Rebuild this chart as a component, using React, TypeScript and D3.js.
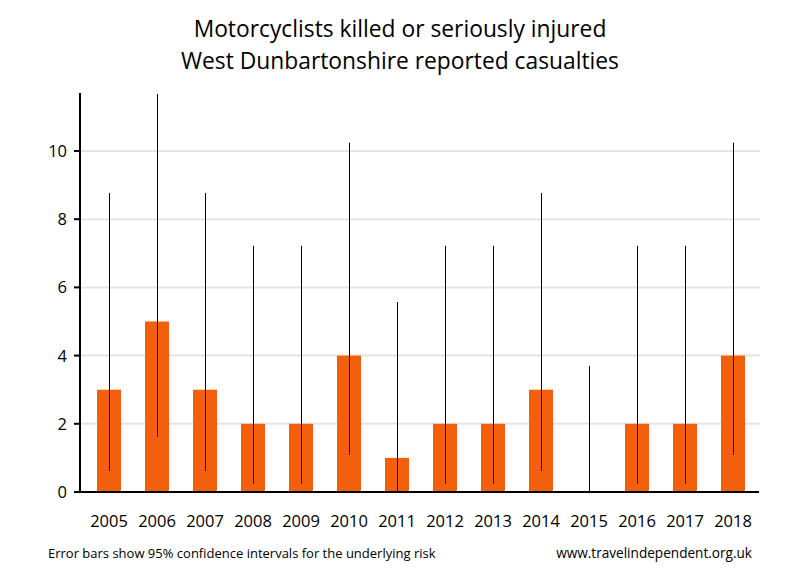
import React from "react";
import * as d3 from "d3";

const years = ["2005","2006","2007","2008","2009","2010","2011","2012","2013","2014","2015","2016","2017","2018"];
const casualties = [3,5,3,2,2,4,1,2,2,3,0,2,2,4];
const ciLow = [0.62,1.62,0.62,0.24,0.24,1.09,0.03,0.24,0.24,0.62,0,0.24,0.24,1.09];
const ciHigh = [8.77,11.67,8.77,7.22,7.22,10.24,5.57,7.22,7.22,8.77,3.69,7.22,7.22,10.24];
const yTicks = [0,2,4,6,8,10];
const titleLines = ["Motorcyclists killed or seriously injured", "West Dunbartonshire reported casualties"];
const footLeft = "Error bars show 95% confidence intervals for the underlying risk";
const footRight = "www.travelindependent.org.uk";

const W = 800, H = 580;
const font = "'Open Sans', 'Noto Sans', sans-serif";

export default function App() {
  const x = d3.scaleBand<string>().domain(years).range([85, 757]).paddingInner(0.5).paddingOuter(0.25);
  const y = d3.scaleLinear().domain([0, 11.7]).range([492, 93]);
  return (
    <svg width={W} height={H} style={{ position: "absolute", left: 0, top: 0, background: "#fff" }}>
      <rect width={W} height={H} fill="#fff" />
      {titleLines.map((t, i) => (
        <text key={i} x={400} y={37 + i * 32} textAnchor="middle" fontFamily={font} fontSize={22.8} fill="#000">{t}</text>
      ))}
      {yTicks.filter(v => v > 0).map(v => (
        <line key={v} x1={80} x2={760} y1={y(v)} y2={y(v)} stroke="#e4e4e4" strokeWidth={2} />
      ))}
      {years.map((yr, i) => (
        <rect key={yr} x={x(yr)!} width={x.bandwidth()} y={y(casualties[i])} height={y(0) - y(casualties[i])} fill="#f35f0c" />
      ))}
      {years.map((yr, i) => {
        const cx = Math.round(x(yr)! + x.bandwidth() / 2) + 0.5;
        return <line key={yr} x1={cx} x2={cx} y1={y(ciLow[i])} y2={y(ciHigh[i])} stroke="#000" strokeWidth={1} />;
      })}
      <line x1={80} x2={80} y1={93} y2={493} stroke="#000" strokeWidth={2} />
      <line x1={79} x2={759} y1={492} y2={492} stroke="#000" strokeWidth={2} />
      {yTicks.map(v => (
        <g key={v}>
          <line x1={74} x2={80} y1={y(v)} y2={y(v)} stroke="#000" strokeWidth={2} />
          <text x={67} y={y(v) + 6} textAnchor="end" fontFamily={font} fontSize={16.5} fill="#000">{v}</text>
        </g>
      ))}
      {years.map(yr => (
        <text key={yr} x={x(yr)! + x.bandwidth() / 2} y={527} textAnchor="middle" fontFamily={font} fontSize={16.5} fill="#000">{yr}</text>
      ))}
      <text x={48} y={558} fontFamily={font} fontSize={13} fill="#000">{footLeft}</text>
      <text x={752} y={558} textAnchor="end" fontFamily={font} fontSize={13.6} fill="#000">{footRight}</text>
    </svg>
  );
}
